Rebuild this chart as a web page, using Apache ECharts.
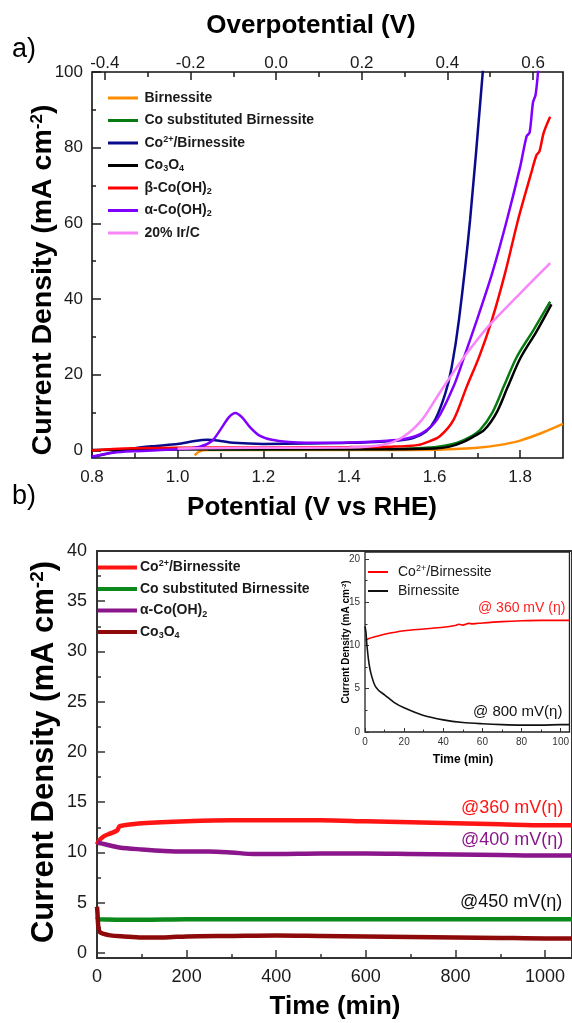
<!DOCTYPE html>
<html>
<head>
<meta charset="utf-8">
<script src="https://cdn.jsdelivr.net/npm/echarts@6/dist/echarts.min.js"></script>
<style>
html, body { margin: 0; padding: 0; background: #fff; }
#chart { width: 572px; height: 1023px; }
</style>
</head>
<body>
<div id="chart"></div>
<script>
// ---------- (a) LSV curves: [potential (V vs RHE), current density (mA cm^-2)] ----------
const lsvBirnessite = [[1.04,-1.3],[1.05,-0.3],[1.07,0.1],[1.2,0.1],[1.4,0.1],[1.5,0.1],[1.6,0.2],[1.65,0.4],[1.7,0.7],[1.75,1.4],[1.8,2.6],[1.85,4.6],[1.9,7.0]];
const lsvCoSubstituted = [[1.07,0.2],[1.3,0.3],[1.5,0.4],[1.58,0.7],[1.62,1.2],[1.652,2.0],[1.68,3.4],[1.706,5.4],[1.735,10],[1.762,17],[1.792,24.7],[1.831,31.8],[1.87,39.3]];
const lsvCoBirnessite = [[0.8,-1.8],[0.85,-0.5],[0.9,0.6],[0.95,1.2],[1.0,1.7],[1.04,2.5],[1.07,2.8],[1.1,2.5],[1.13,2.0],[1.2,1.7],[1.3,1.8],[1.4,2.0],[1.5,2.5],[1.55,3.3],[1.58,5],[1.601,8],[1.625,15],[1.64,22],[1.657,34.5],[1.683,60.9],[1.713,100.5]];
const lsvCo3O4 = [[0.8,0.1],[0.9,0.2],[1.1,0.3],[1.3,0.3],[1.5,0.3],[1.6,0.5],[1.635,1.0],[1.662,2.0],[1.69,3.6],[1.716,5.4],[1.745,10],[1.771,16.8],[1.8,24.3],[1.838,31.4],[1.873,38.6]];
const lsvBetaCoOH2 = [[0.8,0.0],[0.85,0.4],[0.9,0.6],[1.0,0.7],[1.2,0.8],[1.4,0.9],[1.5,1.0],[1.56,1.4],[1.59,2.5],[1.613,3.8],[1.644,8],[1.675,16.8],[1.705,25],[1.734,34.5],[1.765,47],[1.795,60.9],[1.825,73],[1.838,78],[1.845,79],[1.855,84],[1.87,88.2]];
const lsvAlphaCoOH2 = [[0.8,-1.6],[0.85,-0.6],[0.9,-0.2],[1.0,0.3],[1.05,0.9],[1.08,2.5],[1.1,5.5],[1.12,8.8],[1.135,9.9],[1.15,8.8],[1.17,6.0],[1.19,4.0],[1.22,2.8],[1.26,2.2],[1.3,2.0],[1.4,2.1],[1.48,2.5],[1.53,3.0],[1.57,4.5],[1.605,8],[1.644,16.8],[1.67,25],[1.699,34.5],[1.735,47],[1.769,60.9],[1.8,75],[1.815,83],[1.822,84],[1.83,92],[1.836,94],[1.842,100.5]];
const lsvIrC = [[1.0,0.5],[1.2,0.7],[1.4,0.8],[1.48,1.5],[1.527,3.6],[1.57,8],[1.605,14],[1.64,20],[1.675,25.6],[1.725,32.7],[1.8,41.5],[1.87,49.5]];

// ---------- (b) chronoamperometry: [time (min), current density (mA cm^-2)] ----------
const caCoBirnessite = [[0,10.8],[5,11.2],[15,11.6],[30,11.9],[45,12.2],[50,12.6],[60,12.7],[100,12.9],[200,13.1],[300,13.2],[400,13.2],[500,13.2],[600,13.1],[700,13.0],[800,12.9],[900,12.8],[1000,12.7],[1060,12.7]];
const caCoSubstituted = [[0,3.6],[5,3.35],[100,3.3],[200,3.35],[400,3.35],[600,3.35],[800,3.35],[1060,3.35]];
const caAlphaCoOH2 = [[0,11.0],[20,10.8],[50,10.5],[100,10.3],[150,10.15],[200,10.1],[250,10.1],[300,10.0],[350,9.85],[400,9.85],[500,9.9],[600,9.9],[700,9.85],[800,9.8],[900,9.75],[1000,9.7],[1060,9.7]];
const caCo3O4 = [[0,4.6],[1,4.0],[3,2.6],[6,2.1],[15,1.9],[30,1.75],[60,1.65],[100,1.55],[150,1.55],[200,1.65],[300,1.7],[400,1.75],[500,1.7],[600,1.65],[700,1.6],[800,1.55],[900,1.5],[1000,1.45],[1060,1.45]];

// ---------- inset: first 100 min ----------
const insetCoBirnessite = [[0,10.6],[2,10.8],[5,11.0],[10,11.3],[20,11.7],[30,11.9],[40,12.1],[46,12.3],[48,12.45],[50,12.35],[53,12.55],[55,12.5],[60,12.6],[70,12.75],[80,12.85],[90,12.9],[100,12.9],[104.5,12.9]];
const insetBirnessite = [[0,12.2],[0.5,11.5],[1,10.0],[2,8.0],[3,6.8],[5,5.4],[7,4.8],[10,4.3],[15,3.4],[20,2.8],[30,1.9],[40,1.4],[50,1.1],[60,0.95],[70,0.85],[80,0.8],[90,0.8],[100,0.85],[104.5,0.85]];

// ---------- tick values ----------
const ticksPotential = [0.8, 1.0, 1.2, 1.4, 1.6, 1.8];
const ticksPotentialMinor = [0.9, 1.1, 1.3, 1.5, 1.7];
const ticksOverpotential = [-0.4, -0.2, 0.0, 0.2, 0.4, 0.6];
const ticksOverpotentialMinor = [-0.3, -0.1, 0.1, 0.3, 0.5];
const ticksCurrentA = [0, 20, 40, 60, 80, 100];
const ticksCurrentAMinor = [10, 30, 50, 70, 90];
const ticksTime = [0, 200, 400, 600, 800, 1000];
const ticksTimeMinor = [100, 300, 500, 700, 900];
const ticksCurrentB = [0, 5, 10, 15, 20, 25, 30, 35, 40];
const ticksCurrentBMinor = [2.5, 7.5, 12.5, 17.5, 22.5, 27.5, 32.5, 37.5];
const ticksInsetTime = [0, 20, 40, 60, 80, 100];
const ticksInsetTimeMinor = [10, 30, 50, 70, 90];
const ticksInsetCurrent = [0, 5, 10, 15, 20];
const ticksInsetCurrentMinor = [2.5, 7.5, 12.5, 17.5];

const FONT = '"Liberation Sans", Arial, Helvetica, sans-serif';
const INK = '#1a1a1a';

// legend text with sub/superscripts (rich text)
const legendText = {
  aBirn: 'Birnessite',
  aCoSub: 'Co substituted Birnessite',
  aCoBirn: 'Co{sup|2+}/Birnessite',
  aCo3O4: 'Co{sub|3}O{sub|4}',
  aBeta: 'β-Co(OH){sub|2}',
  aAlpha: 'α-Co(OH){sub|2}',
  aIrC: '20% Ir/C',
  bCoBirn: 'Co{sup|2+}/Birnessite',
  bCoSub: 'Co substituted Birnessite',
  bAlpha: 'α-Co(OH){sub|2}',
  bCo3O4: 'Co{sub|3}O{sub|4}',
  iCoBirn: 'Co{sup|2+}/Birnessite',
  iBirn: 'Birnessite'
};
const richScripts = (size, bold) => ({
  sup: { fontSize: size, fontFamily: FONT, fontWeight: bold ? 'bold' : 'normal', verticalAlign: 'top', lineHeight: size + 1, color: INK },
  sub: { fontSize: size, fontFamily: FONT, fontWeight: bold ? 'bold' : 'normal', verticalAlign: 'bottom', lineHeight: size + 1, color: INK }
});

function tickAxis(extra) {
  return Object.assign({
    type: 'value',
    axisLine: { show: false, onZero: false },
    splitLine: { show: false },
    axisTick: { show: true, inside: true, lineStyle: { color: INK, width: 1.5 } },
    axisLabel: { show: true, fontFamily: FONT, color: INK }
  }, extra);
}
function minorAxis(base, values, len) {
  return Object.assign({}, base, {
    axisLabel: { show: false },
    axisTick: { show: true, inside: true, length: len, customValues: values, lineStyle: { color: base.axisTick.lineStyle.color, width: base.axisTick.lineStyle.width } }
  });
}
const plain = v => String(v);

// (a) axes
const xPot = tickAxis({ gridIndex: 0, position: 'bottom', min: 0.8, max: 1.9,
  axisTick: { show: true, inside: true, length: 8, customValues: ticksPotential, lineStyle: { color: INK, width: 1.5 } },
  axisLabel: { show: true, customValues: ticksPotential, fontSize: 17, margin: 11, fontFamily: FONT, color: INK, formatter: v => v.toFixed(1) } });
const xOver = tickAxis({ gridIndex: 0, position: 'top', min: -0.43, max: 0.67,
  axisTick: { show: true, inside: true, length: 8, customValues: ticksOverpotential, lineStyle: { color: INK, width: 1.5 } },
  axisLabel: { show: true, customValues: ticksOverpotential, fontSize: 17, margin: 0, fontFamily: FONT, color: INK, formatter: v => v.toFixed(1) } });
const yCurA = tickAxis({ gridIndex: 0, position: 'left', min: -2, max: 100,
  axisTick: { show: true, inside: true, length: 9, customValues: ticksCurrentA, lineStyle: { color: INK, width: 1.5 } },
  axisLabel: { show: true, customValues: ticksCurrentA, fontSize: 17, margin: 9, fontFamily: FONT, color: INK, formatter: plain } });

// (b) axes
const xTime = tickAxis({ gridIndex: 1, position: 'bottom', min: 0, max: 1060,
  axisTick: { show: true, inside: true, length: 8, customValues: ticksTime, lineStyle: { color: '#333', width: 1.5 } },
  axisLabel: { show: true, customValues: ticksTime, fontSize: 18, margin: 10, fontFamily: FONT, color: INK, formatter: plain } });
const yCurB = tickAxis({ gridIndex: 1, position: 'left', min: -0.5, max: 40,
  axisTick: { show: true, inside: true, length: 8, customValues: ticksCurrentB, lineStyle: { color: '#333', width: 1.5 } },
  axisLabel: { show: true, customValues: ticksCurrentB, fontSize: 18, margin: 10, fontFamily: FONT, color: INK, formatter: plain } });

// inset axes
const xInset = tickAxis({ gridIndex: 2, position: 'bottom', min: 0, max: 104.5,
  axisTick: { show: true, inside: true, length: 4, customValues: ticksInsetTime, lineStyle: { color: '#333', width: 1 } },
  axisLabel: { show: true, customValues: ticksInsetTime, fontSize: 10, margin: 5, fontFamily: FONT, color: '#333', formatter: plain } });
const yInset = tickAxis({ gridIndex: 2, position: 'left', min: 0, max: 20.8,
  axisTick: { show: true, inside: true, length: 4, customValues: ticksInsetCurrent, lineStyle: { color: '#333', width: 1 } },
  axisLabel: { show: true, customValues: ticksInsetCurrent, fontSize: 10, margin: 5, fontFamily: FONT, color: '#333', formatter: plain } });

const xAxes = [
  xPot, minorAxis(xPot, ticksPotentialMinor, 5),
  xOver, minorAxis(xOver, ticksOverpotentialMinor, 5),
  xTime, minorAxis(xTime, ticksTimeMinor, 4),
  xInset, minorAxis(xInset, ticksInsetTimeMinor, 2.5)
];
const yAxes = [
  yCurA, minorAxis(yCurA, ticksCurrentAMinor, 4),
  yCurB, minorAxis(yCurB, ticksCurrentBMinor, 4),
  yInset, minorAxis(yInset, ticksInsetCurrentMinor, 2.5)
];

function line(name, data, color, width, xi, yi) {
  return {
    type: 'line', name: name, data: data, xAxisIndex: xi, yAxisIndex: yi,
    showSymbol: false, symbol: 'none', smooth: 0.3,
    lineStyle: { color: color, width: width }, itemStyle: { color: color },
    clip: true, silent: true, z: 3
  };
}

const series = [
  // (a)
  line('aBirn', lsvBirnessite, '#FF8C00', 2.5, 0, 0),
  line('aCoSub', lsvCoSubstituted, '#077A12', 2.5, 0, 0),
  line('aCoBirn', lsvCoBirnessite, '#0A0A8C', 2.5, 0, 0),
  line('aCo3O4', lsvCo3O4, '#000000', 2.5, 0, 0),
  line('aBeta', lsvBetaCoOH2, '#FF0000', 2.5, 0, 0),
  line('aAlpha', lsvAlphaCoOH2, '#8000FF', 2.5, 0, 0),
  line('aIrC', lsvIrC, '#F886F8', 2.5, 0, 0),
  // (b)
  line('bCoBirn', caCoBirnessite, '#FF1414', 4.5, 4, 2),
  line('bCoSub', caCoSubstituted, '#0B8A1B', 4.5, 4, 2),
  line('bAlpha', caAlphaCoOH2, '#8B168B', 4.5, 4, 2),
  line('bCo3O4', caCo3O4, '#8E0A0A', 4.5, 4, 2),
  // inset
  line('iCoBirn', insetCoBirnessite, '#FF0000', 1.6, 6, 4),
  line('iBirn', insetBirnessite, '#111111', 1.6, 6, 4)
];

function legendLines(names, left, top, fontSize, bold, gap, iconW, lineH, widthPx) {
  return {
    orient: 'vertical', left: left, top: top, itemGap: gap,
    itemWidth: iconW, itemHeight: widthPx, padding: 0,
    selectedMode: false, icon: 'path://M0,0 L10,0 L10,1 L0,1 Z',
    data: names.map(n => ({ name: n })),
    formatter: n => legendText[n],
    textStyle: {
      fontFamily: FONT, fontSize: fontSize, fontWeight: bold ? 'bold' : 'normal',
      color: INK, lineHeight: lineH, padding: [0, 0, 0, -2],
      rich: richScripts(Math.round(fontSize * 0.62), bold)
    }
  };
}

const legends = [
  legendLines(['aBirn','aCoSub','aCoBirn','aCo3O4','aBeta','aAlpha','aIrC'], 108, 90, 14, true, 6.5, 37, 16, 3),
  legendLines(['bCoBirn','bCoSub','bAlpha','bCo3O4'], 98, 559, 14, true, 4.5, 39, 17, 4.5),
  legendLines(['iCoBirn','iBirn'], 368, 564, 14, false, 3, 34, 16, 2)
];

function title(text, x, y, size, rotate) {
  return {
    type: 'text', x: x, y: y, silent: true, rotation: rotate ? Math.PI / 2 : 0,
    style: {
      text: text, fontFamily: FONT, fontSize: size, fontWeight: 'bold', fill: '#000',
      align: 'center', verticalAlign: 'middle',
      rich: {
        sup: { fontSize: Math.round(size * 0.6), fontWeight: 'bold', fontFamily: FONT, verticalAlign: 'top', lineHeight: Math.round(size * 0.6) + 1, fill: '#000' }
      }
    }
  };
}
function note(text, x, y, size, color) {
  return { type: 'text', x: x, y: y, silent: true, style: { text: text, fontFamily: FONT, fontSize: size, fill: color, verticalAlign: 'middle' } };
}

const graphics = [
  note('a)', 12, 50, 27, '#000'),
  note('b)', 12, 497, 27, '#000'),
  title('Overpotential (V)', 311, 26, 26),
  title('Potential (V vs RHE)', 312, 508, 26),
  title('Time (min)', 335, 1007, 26),
  title('Current Density (mA cm{sup|-2})', 43, 280, 28.5, true),
  title('Current Density (mA cm{sup|-2})', 44, 752, 31, true),
  title('Current Density (mA cm{sup|-2})', 346, 642, 10, true),
  title('Time (min)', 463, 760, 12),
  // operating overpotentials
  note('@360 mV(η)', 461, 808, 18, '#FF1414'),
  note('@400 mV(η)', 461, 840, 18, '#8B168B'),
  note('@450 mV(η)', 460, 902, 18, '#111'),
  note('@ 360 mV (η)', 478, 608, 14, '#FF2020'),
  note('@ 800 mV(η)', 473, 712, 15, '#111')
];

const chart = echarts.init(document.getElementById('chart'), null, { renderer: 'canvas' });
chart.setOption({
  animation: false,
  backgroundColor: '#fff',
  grid: [
    { left: 92, top: 72, width: 471, height: 386, show: true, borderColor: '#111', borderWidth: 1.6, backgroundColor: 'transparent' },
    { left: 97, top: 551, width: 477, height: 407, show: true, borderColor: '#333', borderWidth: 2, backgroundColor: 'transparent' },
    { left: 365, top: 552, width: 209, height: 180, show: true, borderColor: '#222', borderWidth: 1.3, backgroundColor: 'transparent' }
  ],
  xAxis: xAxes,
  yAxis: yAxes,
  legend: legends,
  series: series,
  graphic: graphics
});
</script>
</body>
</html>
